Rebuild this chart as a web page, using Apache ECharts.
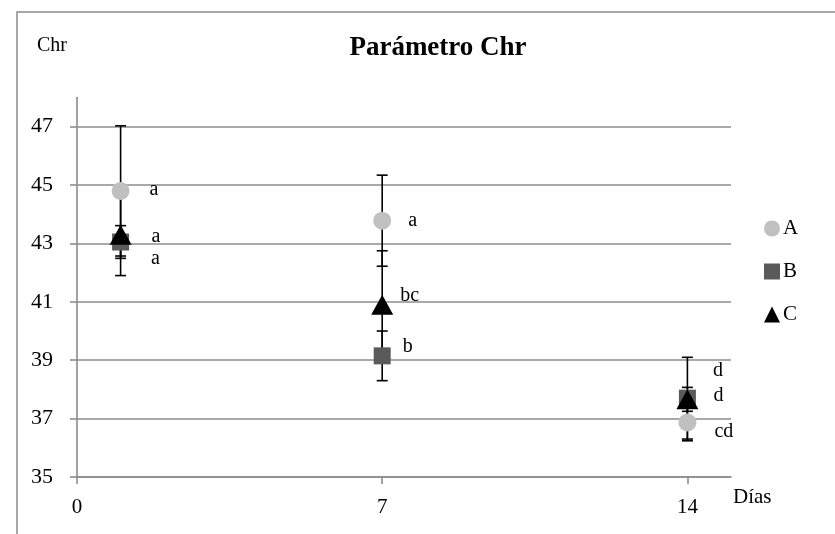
<!DOCTYPE html>
<html>
<head>
<meta charset="utf-8">
<script src="https://cdn.jsdelivr.net/npm/echarts@6/dist/echarts.min.js"></script>
<style>
  html, body { margin: 0; padding: 0; background: #fff; }
  #chart { width: 835px; height: 534px; }
</style>
</head>
<body>
<div id="chart"></div>
<script>
// Sampling days
const days = [1, 7, 14];

// Mean Chr values per treatment
const valuesA = [44.8, 43.78, 36.87];
const valuesB = [43.05, 39.15, 37.7];
const valuesC = [43.3, 40.9, 37.66];

// Error bar half-lengths per treatment
const errorsA = [2.23, 1.56, 0.63];
const errorsB = [0.56, 0.85, 1.4];
const errorsC = [1.4, 1.85, 0.41];

// Significance letters per treatment
const lettersA = ['a', 'a', 'cd'];
const lettersB = ['a', 'b', 'd'];
const lettersC = ['a', 'bc', 'd'];

// Axis ticks
const xTicks = [0, 7, 14];
const yTicks = [35, 37, 39, 41, 43, 45, 47];

// Where each letter sits relative to its marker
const labelShiftA = [[20, -1], [17, 0], [18, 9]];
const labelShiftB = [[22, 17], [12, -9], [17, -27]];
const labelShiftC = [[20, 2], [7, -9], [15, -4]];

const FONT = '"Liberation Serif", "Times New Roman", serif';
const GRID_GRAY = '#8c8c8c';

function points(vals) {
  return days.map((d, i) => [d, vals[i]]);
}
function errPoints(vals, errs) {
  return days.map((d, i) => [d, vals[i], errs[i]]);
}

function scatterSeries(name, vals, letters, shifts, symbol, size, color, z) {
  return {
    name: name,
    type: 'scatter',
    symbol: symbol,
    symbolSize: size,
    z: z,
    itemStyle: { color: color, opacity: 1 },
    data: points(vals).map((p, i) => ({
      value: p,
      label: { offset: shifts[i] }
    })),
    label: {
      show: true,
      position: 'right',
      distance: 0,
      formatter: (p) => letters[p.dataIndex],
      fontFamily: FONT,
      fontSize: 20,
      color: '#000'
    },
    emphasis: { disabled: true }
  };
}

function errorSeries(vals, errs) {
  return {
    type: 'custom',
    z: 1,
    silent: true,
    data: errPoints(vals, errs),
    encode: { x: 0, y: [1] },
    renderItem: function (params, api) {
      const x = api.value(0), y = api.value(1), e = api.value(2);
      const top = api.coord([x, y + e]);
      const bot = api.coord([x, y - e]);
      const half = 5.5;
      const style = { stroke: '#000', lineWidth: 1.6 };
      return {
        type: 'group',
        children: [
          { type: 'line', shape: { x1: top[0], y1: top[1], x2: bot[0], y2: bot[1] }, style: style },
          { type: 'line', shape: { x1: top[0] - half, y1: top[1], x2: top[0] + half, y2: top[1] }, style: style },
          { type: 'line', shape: { x1: bot[0] - half, y1: bot[1], x2: bot[0] + half, y2: bot[1] }, style: style }
        ]
      };
    }
  };
}

const chart = echarts.init(document.getElementById('chart'), null, { renderer: 'canvas' });

chart.setOption({
  animation: false,
  backgroundColor: '#fff',
  textStyle: { fontFamily: FONT },
  graphic: [{
    type: 'rect',
    shape: { x: 17, y: 12, width: 900, height: 600 },
    style: { fill: 'none', stroke: '#8a8a8a', lineWidth: 1.5 },
    z: -10
  }],
  title: {
    text: 'Parámetro Chr',
    left: 433,
    top: 30,
    textAlign: 'center',
    textStyle: { fontFamily: FONT, fontSize: 27, fontWeight: 'bold', color: '#000' }
  },
  legend: {
    orient: 'vertical',
    left: 759,
    top: 213,
    itemWidth: 16,
    itemHeight: 16,
    itemGap: 22,
    textStyle: { fontFamily: FONT, fontSize: 21, color: '#000', padding: [0, 0, 0, -2] },
    data: [
      { name: 'A', icon: 'circle' },
      { name: 'B', icon: 'rect' },
      { name: 'C', icon: 'triangle' }
    ]
  },
  grid: { left: 77, right: 104, top: 97.5, bottom: 57, containLabel: false },
  xAxis: {
    type: 'value',
    min: 0,
    max: 15,
    interval: 7,
    name: 'Días',
    nameLocation: 'end',
    nameGap: 2,
    nameTextStyle: { fontFamily: FONT, fontSize: 21, color: '#000', verticalAlign: 'top', padding: [10, 0, 0, 0] },
    axisLine: { show: true, lineStyle: { color: GRID_GRAY, width: 1.6 } },
    axisTick: { show: true, length: 7, lineStyle: { color: GRID_GRAY, width: 1.6 }, customValues: xTicks },
    axisLabel: { customValues: xTicks, margin: 20, fontFamily: FONT, fontSize: 21, color: '#000' },
    splitLine: { show: false }
  },
  yAxis: {
    type: 'value',
    min: 35,
    max: 48,
    interval: 2,
    name: 'Chr',
    nameLocation: 'end',
    nameGap: 42,
    nameTextStyle: { fontFamily: FONT, fontSize: 20, color: '#000', align: 'right', padding: [0, 10, 0, 0] },
    axisLine: { show: true, lineStyle: { color: GRID_GRAY, width: 1.6 } },
    axisTick: { show: true, length: 7, lineStyle: { color: GRID_GRAY, width: 1.6 }, customValues: yTicks },
    axisLabel: { customValues: yTicks, margin: 24, fontFamily: FONT, fontSize: 22, color: '#000' },
    splitLine: { show: true, lineStyle: { color: GRID_GRAY, width: 1.6 } }
  },
  series: [
    errorSeries(valuesA, errorsA),
    errorSeries(valuesB, errorsB),
    errorSeries(valuesC, errorsC),
    scatterSeries('A', valuesA, lettersA, labelShiftA, 'circle', 18, '#c0c0c0', 3),
    scatterSeries('B', valuesB, lettersB, labelShiftB, 'rect', 17, '#5a5a5a', 4),
    scatterSeries('C', valuesC, lettersC, labelShiftC, 'triangle', [22, 20], '#000000', 5)
  ]
});
</script>
</body>
</html>
